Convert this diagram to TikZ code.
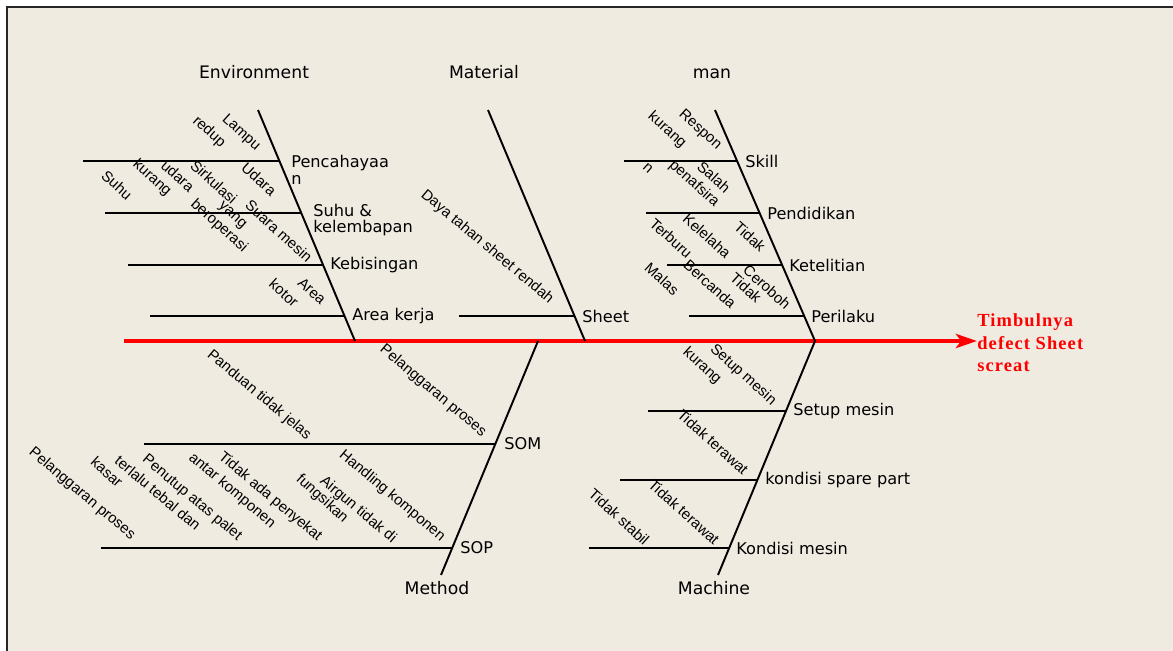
\documentclass[tikz,border=0pt]{standalone}
\usepackage{fontspec}
\setmainfont{DejaVu Sans}
\newfontfamily\causefont{Liberation Sans}
\newfontfamily\effectfont[LetterSpace=6]{Liberation Serif}
\usetikzlibrary{arrows.meta}
\definecolor{paper}{RGB}{239,235,225}

\begin{document}
\begin{tikzpicture}[
        x=0.02cm, y=-0.02cm,
        % Основные кости и ответвления
        bone/.style={line width=1.1pt, black},
        twig/.style={line width=0.9pt, black},
        spine/.style={line width=2.8pt, red, -{Stealth[length=12pt, width=8pt, inset=3pt]}},
        % Подписи
        head label/.style={font=\fontsize{9.8}{11}\selectfont, anchor=base, inner sep=0pt},
        sub label/.style={font=\fontsize{9.2}{9.6}\selectfont, anchor=west, align=left, inner sep=0pt},
        cause/.style={font=\causefont\fontsize{8.5}{10}\selectfont, rotate=-42, inner sep=0pt},
        effect/.style={font=\effectfont\bfseries\fontsize{10.5}{12.75}\selectfont, red, anchor=west, align=left, inner sep=0pt}
    ]

        % Фон и рамка
        \useasboundingbox (0,0) rectangle (1173,651);
        \fill[white] (0,0) rectangle (1173,651);
        \fill[paper] (7,7) rectangle (1173,651);
        \draw[line width=1.2pt, black!85] (7,651) -- (7,7) -- (1173,7);

        % Хребет и следствие
        \coordinate (tail) at (124,341);
        \node[effect] (effect) at (977,343) {Timbulnya\\defect Sheet\\screat};
        \draw[spine] (tail) -- (tail -| effect.west);

        % Environment
        \node[head label] (env) at (254,79) {Environment};
        \coordinate (env top) at (258,110);
        \coordinate (env foot) at (355,341);
        \draw[bone] (env top) -- (env foot);
        \coordinate (pen) at (279.4,161);   \coordinate (pen end) at (83,161);
        \coordinate (suhu) at (301.3,213);  \coordinate (suhu end) at (105,213);
        \coordinate (bis) at (323.1,265);   \coordinate (bis end) at (128,265);
        \coordinate (area) at (344.5,316);  \coordinate (area end) at (150,316);
        \draw[twig] (pen end) -- (pen);
        \draw[twig] (suhu end) -- (suhu);
        \draw[twig] (bis end) -- (bis);
        \draw[twig] (area end) -- (area);
        \node[sub label] (pen label) at (291,169.5) {Pencahayaa\\n};
        \node[sub label] (suhu label) at (313,220) {Suhu \&\\kelembapan};
        \node[sub label] (bis label) at (330,265) {Kebisingan};
        \node[sub label] (area label) at (352,316) {Area kerja};
        \node[cause] (c lampu) at (241,133) {Lampu};
        \node[cause] (c redup) at (209,132) {redup};
        \node[cause] (c udara a) at (259,179) {Udara};
        \node[cause] (c sirkulasi) at (214,182) {Sirkulasi};
        \node[cause] (c udara b) at (178,176) {udara};
        \node[cause] (c kurang a) at (152,178) {kurang};
        \node[cause] (c suhu) at (117,185) {Suhu};
        \node[cause] (c yang) at (232,216) {yang};
        \node[cause] (c operasi) at (219,226) {beroperasi};
        \node[cause] (c suara) at (279,231) {Suara mesin};
        \node[cause] (c area) at (312,291) {Area};
        \node[cause] (c kotor) at (284,293) {kotor};

        % Material
        \node[head label] (mat) at (484,79) {Material};
        \coordinate (mat top) at (488,110);
        \coordinate (mat foot) at (585,341);
        \draw[bone] (mat top) -- (mat foot);
        \coordinate (sheet) at (574.5,316); \coordinate (sheet end) at (459,316);
        \draw[twig] (sheet end) -- (sheet);
        \node[sub label] (sheet label) at (582,316) {Sheet};
        \node[cause, rotate=2] (c daya) at (487,247) {Daya tahan sheet rendah};

        % man
        \node[head label] (man) at (712,79) {man};
        \coordinate (man top) at (715,110);
        \coordinate (man foot) at (815,341);
        \draw[bone] (man top) -- (man foot);
        \coordinate (skill) at (737.1,161);  \coordinate (skill end) at (624,161);
        \coordinate (didik) at (759.6,213);  \coordinate (didik end) at (646,213);
        \coordinate (teliti) at (782.1,265); \coordinate (teliti end) at (667,265);
        \coordinate (laku) at (804.2,316);   \coordinate (laku end) at (689,316);
        \draw[twig] (skill end) -- (skill);
        \draw[twig] (didik end) -- (didik);
        \draw[twig] (teliti end) -- (teliti);
        \draw[twig] (laku end) -- (laku);
        \node[sub label] (skill label) at (745,161) {Skill};
        \node[sub label] (didik label) at (767,213) {Pendidikan};
        \node[sub label] (teliti label) at (789,265) {Ketelitian};
        \node[sub label] (laku label) at (811,316) {Perilaku};
        \node[cause] (c respon) at (700,130) {Respon};
        \node[cause] (c kurang b) at (667,130) {kurang};
        \node[cause] (c salah) at (714,177) {Salah};
        \node[cause] (c tafsir) at (694,184) {penafsira};
        \node[cause] (c n) at (648,168) {n};
        \node[cause] (c tidak a) at (750,237) {Tidak};
        \node[cause] (c lelah) at (707,236) {Kelelaha};
        \node[cause] (c buru) at (671,238) {Terburu};
        \node[cause] (c malas) at (662,279) {Malas};
        \node[cause] (c canda) at (710,284) {Bercanda};
        \node[cause] (c tidak b) at (746,288) {Tidak};
        \node[cause] (c ceroboh) at (767,287) {Ceroboh};

        % Method
        \node[head label] (met) at (437,594) {Method};
        \coordinate (met top) at (538,341);
        \coordinate (met foot) at (441,575);
        \draw[bone] (met top) -- (met foot);
        \coordinate (som) at (495.4,444); \coordinate (som end) at (144,444);
        \coordinate (sop) at (452.3,548); \coordinate (sop end) at (101,548);
        \draw[twig] (som end) -- (som);
        \draw[twig] (sop end) -- (sop);
        \node[sub label] (som label) at (504,444) {SOM};
        \node[sub label] (sop label) at (460,548) {SOP};
        \node[cause, rotate=2] (c langgar a) at (433,391) {Pelanggaran proses};
        \node[cause, rotate=2] (c panduan) at (259,395) {Panduan tidak jelas};
        \node[cause, rotate=2] (c handling) at (392,496) {Handling komponen};
        \node[cause, rotate=2] (c airgun) at (358,510) {Airgun tidak di};
        \node[cause] (c fungsi) at (322,499) {fungsikan};
        \node[cause, rotate=2] (c sekat) at (270,497) {Tidak ada penyekat};
        \node[cause, rotate=2] (c antar) at (232,491) {antar komponen};
        \node[cause, rotate=2] (c tutup) at (192,498) {Penutup atas palet};
        \node[cause, rotate=2] (c tebal) at (158,493) {terlalu tebal dan};
        \node[cause] (c kasar) at (107,472) {kasar};
        \node[cause, rotate=2] (c langgar b) at (82,494) {Pelanggaran proses};

        % Machine
        \node[head label] (mac) at (714,594) {Machine};
        \coordinate (mac top) at (815,341);
        \coordinate (mac foot) at (718,575);
        \draw[bone] (mac top) -- (mac foot);
        \coordinate (setup) at (786,411);    \coordinate (setup end) at (648,411);
        \coordinate (spare) at (757.3,480);  \coordinate (spare end) at (620,480);
        \coordinate (kondisi) at (729,548);  \coordinate (kondisi end) at (589,548);
        \draw[twig] (setup end) -- (setup);
        \draw[twig] (spare end) -- (spare);
        \draw[twig] (kondisi end) -- (kondisi);
        \node[sub label] (setup label) at (793,411) {Setup mesin};
        \node[sub label] (spare label) at (765,480) {kondisi spare part};
        \node[sub label] (kondisi label) at (736,548) {Kondisi mesin};
        \node[cause] (c setup) at (743,375) {Setup mesin};
        \node[cause] (c kurang c) at (702,366) {kurang};
        \node[cause] (c rawat a) at (713,442) {Tidak terawat};
        \node[cause] (c rawat b) at (684,512) {Tidak terawat};
        \node[cause] (c stabil) at (619,517) {Tidak stabil};

    \end{tikzpicture}
\end{document}
